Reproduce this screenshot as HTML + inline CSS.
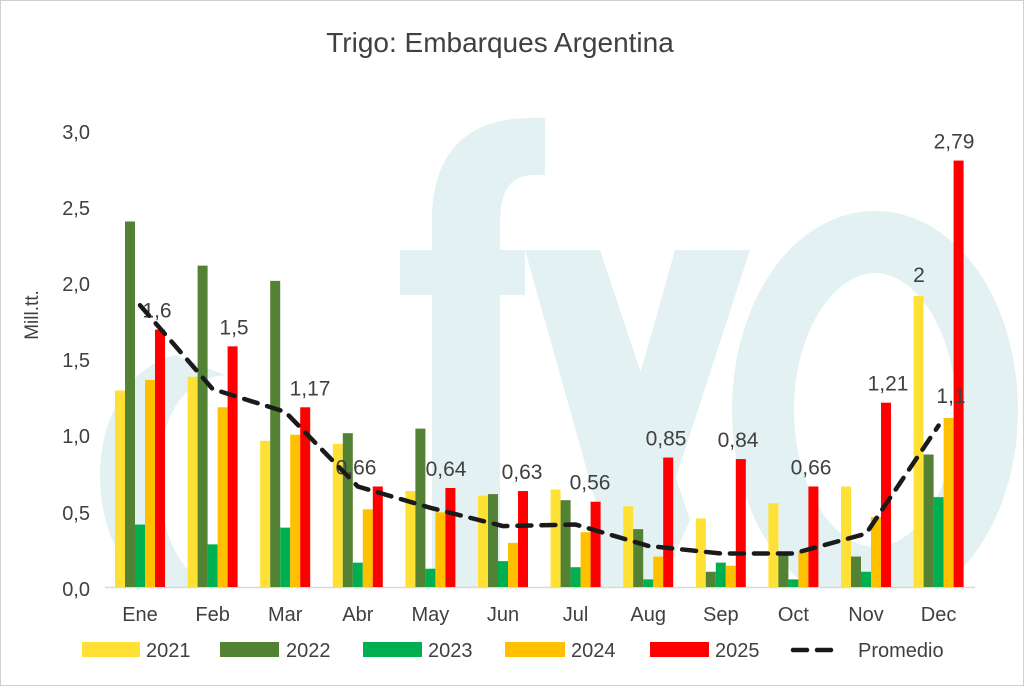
<!DOCTYPE html>
<html><head><meta charset="utf-8"><style>
html,body{margin:0;padding:0;background:#fff;width:1024px;height:686px;overflow:hidden}
svg{display:block}
text{font-family:"Liberation Sans",sans-serif;fill:#404040}
</style></head><body>
<svg width="1024" height="686" viewBox="0 0 1024 686" xmlns="http://www.w3.org/2000/svg">
<defs><clipPath id="cp"><rect x="0" y="0" width="1024" height="588"/></clipPath></defs>
<rect x="0.5" y="0.5" width="1023" height="685" fill="#fff" stroke="#d0d0d0"/>
<!-- watermark shapes -->
<g fill="#e3f1f3" clip-path="url(#cp)">
<path d="M432 588 L432 220 C432 150 470 118 530 118 L545 118 L545 175 L535 175 C510 175 500 190 500 225 L500 588 Z"/>
<rect x="400" y="250" width="125" height="45"/>
<polygon points="525,250 600,250 690,520 660,588 620,588"/>
<polygon points="675,250 750,250 640,588 580,588"/>
<ellipse cx="875" cy="410" rx="112" ry="168" fill="none" stroke="#e3f1f3" stroke-width="62"/>
<path d="M175 355 C120 370 100 430 100 475 C100 540 130 585 175 590 L215 590 C175 570 160 530 160 475 C160 420 180 380 225 375 Z"/>
</g>
<text x="500" y="52" text-anchor="middle" style="font-size:28px">Trigo: Embarques Argentina</text>
<g style="font-size:20px" text-anchor="end">
<text x="90" y="596">0,0</text>
<text x="90" y="520">0,5</text>
<text x="90" y="443">1,0</text>
<text x="90" y="367">1,5</text>
<text x="90" y="291">2,0</text>
<text x="90" y="215">2,5</text>
<text x="90" y="139">3,0</text>
</g>
<text transform="translate(38,315) rotate(-90)" text-anchor="middle" style="font-size:19px">Mill.tt.</text>
<line x1="105" y1="587.5" x2="975" y2="587.5" stroke="#d9d9d9" stroke-width="1.5"/>
<g id="bars"></g>
<g id="labels" style="font-size:21px" text-anchor="middle"></g>
<polyline id="avg" fill="none" stroke="#1a1a1a" stroke-width="4.5" stroke-dasharray="14,10" stroke-linecap="round"/>
<g style="font-size:20px" text-anchor="middle" id="months"></g>
<!-- legend -->
<rect x="82" y="642" width="58" height="15" fill="#ffe135"/><text x="146" y="657" style="font-size:20px">2021</text>
<rect x="220" y="642" width="59" height="15" fill="#548235"/><text x="286" y="657" style="font-size:20px">2022</text>
<rect x="363" y="642" width="59" height="15" fill="#00b050"/><text x="428" y="657" style="font-size:20px">2023</text>
<rect x="505" y="642" width="60" height="15" fill="#ffc000"/><text x="571" y="657" style="font-size:20px">2024</text>
<rect x="650" y="642" width="59" height="15" fill="#ff0000"/><text x="715" y="657" style="font-size:20px">2025</text>
<line x1="793" y1="650" x2="840" y2="650" stroke="#1a1a1a" stroke-width="4.5" stroke-dasharray="14,10" stroke-linecap="round"/>
<text x="858" y="657" style="font-size:20px">Promedio</text>
</svg>
<script>
var d=[[1.29,2.40,0.41,1.36,1.69],[1.38,2.11,0.28,1.18,1.58],[0.96,2.01,0.39,1.0,1.18],[0.94,1.01,0.16,0.51,0.66],[0.63,1.04,0.12,0.49,0.65],[0.60,0.61,0.17,0.29,0.63],[0.64,0.57,0.13,0.36,0.56],[0.53,0.38,0.05,0.20,0.85],[0.45,0.10,0.16,0.14,0.84],[0.55,0.21,0.05,0.23,0.66],[0.66,0.20,0.10,0.46,1.21],[1.91,0.87,0.59,1.11,2.80]];
var c=["#ffe135","#548235","#00b050","#ffc000","#ff0000"];
var m=["Ene","Feb","Mar","Abr","May","Jun","Jul","Aug","Sep","Oct","Nov","Dec"];
var lab=["1,6","1,5","1,17","0,66","0,64","0,63","0,56","0,85","0,84","0,66","1,21","2,79"];
var lx=[157,234,310,356,446,522,590,666,738,811,888,954];
var avg=[1.85,1.3,1.15,0.66,0.52,0.40,0.41,0.27,0.22,0.22,0.35,1.06];
var ns="http://www.w3.org/2000/svg",Y0=587,S=152.3;
function el(t,a,p,tx){var e=document.createElementNS(ns,t);for(var k in a)e.setAttribute(k,a[k]);if(tx)e.textContent=tx;document.getElementById(p).appendChild(e);}
var pts=[];
for(var i=0;i<12;i++){var x0=115+72.6*i;
for(var j=0;j<5;j++){var h=d[i][j]*S;el("rect",{x:x0+j*10,y:Y0-h,width:10,height:h,fill:c[j]},"bars");}
el("text",{x:lx[i],y:Y0-d[i][4]*S-12},"labels",lab[i]);
el("text",{x:x0+25,y:621},"months",m[i]);
pts.push((x0+25)+","+(Y0-avg[i]*S));}
el("text",{x:919,y:282},"labels","2");
el("text",{x:951,y:403},"labels","1,1");
document.getElementById("avg").setAttribute("points",pts.join(" "));
</script>
</body></html>
